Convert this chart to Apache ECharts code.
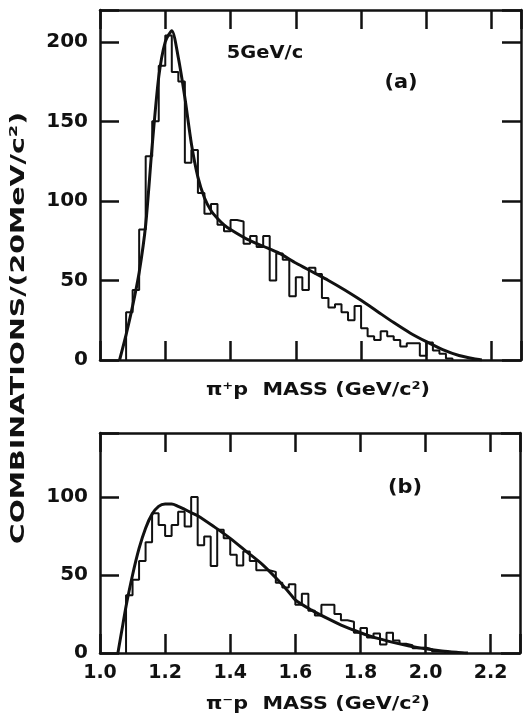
<!DOCTYPE html>
<html>
<head>
<meta charset="utf-8">
<script src="https://cdn.jsdelivr.net/npm/echarts@6/dist/echarts.min.js"></script>
<style>html,body{margin:0;padding:0;background:#fff;}#c{width:523px;height:717px;}</style>
</head>
<body>
<div id="c"></div>
<script>
// ---- data ----
const binWidth = 0.02;
// panel (a): pi+ p mass histogram, first bin starts at 1.08
const binStartA = 1.08;
const histA = [30, 44, 82, 128, 150, 185, 204, 181, 175, 124, 132, 105, 92, 98, 85, 81,
  88, 87, 73, 78, 71, 78, 50, 67, 63, 40, 52, 44, 58, 54, 39, 33, 35, 30, 25, 34,
  20, 15, 12.5, 18, 15, 12.5, 8.5, 10.5, 10.5, 2.7, 11, 6, 4, 1];
// fitted curve (a)
const curveAx = [1.06, 1.08, 1.10, 1.12, 1.14, 1.16, 1.18, 1.20, 1.22, 1.24, 1.26, 1.28, 1.30, 1.32, 1.34, 1.36, 1.38, 1.40,
  1.45, 1.50, 1.55, 1.60, 1.65, 1.70, 1.75, 1.80, 1.85, 1.90, 1.95, 2.00, 2.05, 2.10, 2.15, 2.17];
const curveAy = [0, 16, 34, 55, 85, 135, 178, 200, 207, 190, 165, 136, 115, 102, 94, 89, 85, 82,
  76, 71.5, 67, 61, 55.5, 50, 44, 37.5, 30.5, 23.5, 17, 11.5, 6.5, 2.8, 0.6, 0];

// panel (b): pi- p mass histogram, first bin starts at 1.08
const binStartB = 1.08;
const histB = [37, 47, 59, 71, 89.5, 82, 75, 82, 90.6, 81, 100, 69, 74.6, 55.8, 79, 73.5,
  63, 56, 65, 59, 53, 53, 52, 45, 42, 44, 31, 38, 27, 24, 31, 31, 25, 21, 20, 13,
  16, 10, 12.5, 5.5, 13, 8, 6, 5, 3, 3.5, 2.5, 1, 1];
const curveBx = [1.055, 1.07, 1.08, 1.10, 1.12, 1.14, 1.16, 1.18, 1.20, 1.22, 1.24, 1.26, 1.28, 1.30, 1.35, 1.40,
  1.45, 1.50, 1.55, 1.58, 1.60, 1.65, 1.70, 1.75, 1.80, 1.85, 1.90, 1.95, 2.00, 2.05, 2.10, 2.13];
const curveBy = [0, 18, 30, 50, 67, 80, 89, 94, 95.5, 95.5, 94, 92, 90, 88, 81, 73.5,
  65, 56.5, 46, 39, 34, 27.5, 22, 17, 13, 9.5, 6.8, 4.5, 2.7, 1.3, 0.4, 0];

const xTicks = [1.0, 1.2, 1.4, 1.6, 1.8, 2.0, 2.2];
const yTicksA = [0, 50, 100, 150, 200];
const yTicksB = [0, 50, 100];

// ---- build ----
function histPoints(start, vals) {
  const pts = [[start, 0]];
  vals.forEach((v, i) => pts.push([+(start + i * binWidth).toFixed(3), v]));
  pts.push([+(start + vals.length * binWidth).toFixed(3), 0]);
  return pts;
}
function zip(xs, ys) { return xs.map((x, i) => [x, ys[i]]); }

const ink = '#111';
const FONT = 'DejaVu Sans';
const tick = { show: true, inside: true, length: 19, lineStyle: { color: ink, width: 2.5 } };
const line = { show: true, onZero: false, lineStyle: { color: ink, width: 2.5 } };

function xAx(grid, pos, labels) {
  return {
    type: 'value', gridIndex: grid, position: pos, min: 1.0, max: 2.29, interval: 0.2,
    axisLine: line, axisTick: tick, splitLine: { show: false },
    axisLabel: {
      show: labels, margin: 11, color: ink, fontFamily: FONT, fontWeight: 'bold', fontSize: 19,
      formatter: v => xTicks.some(t => Math.abs(t - v) < 1e-6) ? v.toFixed(1) : ''
    }
  };
}
function yAx(grid, pos, max, ticks, labels) {
  return {
    type: 'value', gridIndex: grid, position: pos, min: 0, max: max, interval: 50,
    axisLine: line, axisTick: tick, splitLine: { show: false },
    axisLabel: {
      show: labels, margin: 12, color: ink, fontFamily: FONT, fontWeight: 'bold', fontSize: 20,
      formatter: v => ticks.indexOf(v) >= 0 ? String(v) : ''
    }
  };
}

const chart = echarts.init(document.getElementById('c'), null, { renderer: 'canvas' });
chart.setOption({
  animation: false,
  backgroundColor: '#fff',
  grid: [
    { left: 100, top: 10, width: 421, height: 350 },
    { left: 100, top: 433, width: 421, height: 220 }
  ],
  xAxis: [xAx(0, 'bottom', false), xAx(0, 'top', false), xAx(1, 'bottom', true), xAx(1, 'top', false)],
  yAxis: [yAx(0, 'left', 220, yTicksA, true), yAx(0, 'right', 220, yTicksA, false),
          yAx(1, 'left', 141, yTicksB, true), yAx(1, 'right', 141, yTicksB, false)],
  series: [
    { type: 'line', xAxisIndex: 0, yAxisIndex: 0, step: 'end', symbol: 'none',
      data: histPoints(binStartA, histA), lineStyle: { color: ink, width: 2 } },
    { type: 'line', xAxisIndex: 0, yAxisIndex: 0, smooth: 0.25, symbol: 'none',
      data: zip(curveAx, curveAy), lineStyle: { color: ink, width: 3 } },
    { type: 'line', xAxisIndex: 2, yAxisIndex: 2, step: 'end', symbol: 'none',
      data: histPoints(binStartB, histB), lineStyle: { color: ink, width: 2 } },
    { type: 'line', xAxisIndex: 2, yAxisIndex: 2, smooth: 0.3, symbol: 'none',
      data: zip(curveBx, curveBy), lineStyle: { color: ink, width: 3 } }
  ],
  graphic: [
    { type: 'text', x: 265, y: 53, scaleX: 1.08, style: { text: '5GeV/c', fill: ink, font: 'bold 18px "DejaVu Sans"', align: 'center', verticalAlign: 'middle' } },
    { type: 'text', x: 401, y: 83, scaleX: 1.1, style: { text: '(a)', fill: ink, font: 'bold 19px "DejaVu Sans"', align: 'center', verticalAlign: 'middle' } },
    { type: 'text', x: 405, y: 488, scaleX: 1.1, style: { text: '(b)', fill: ink, font: 'bold 19px "DejaVu Sans"', align: 'center', verticalAlign: 'middle' } },
    { type: 'text', x: 318, y: 390, scaleX: 1.15, style: { text: 'π⁺p  MASS (GeV/c²)', fill: ink, font: 'bold 18px "DejaVu Sans"', align: 'center', verticalAlign: 'middle' } },
    { type: 'text', x: 318, y: 704, scaleX: 1.15, style: { text: 'π⁻p  MASS (GeV/c²)', fill: ink, font: 'bold 18px "DejaVu Sans"', align: 'center', verticalAlign: 'middle' } },
    { type: 'text', x: 19, y: 328, rotation: Math.PI / 2, scaleX: 1.42, style: { text: 'COMBINATIONS/(20MeV/c²)', fill: ink, font: 'bold 20px "DejaVu Sans"', align: 'center', verticalAlign: 'middle' } }
  ]
});
</script>
</body>
</html>
